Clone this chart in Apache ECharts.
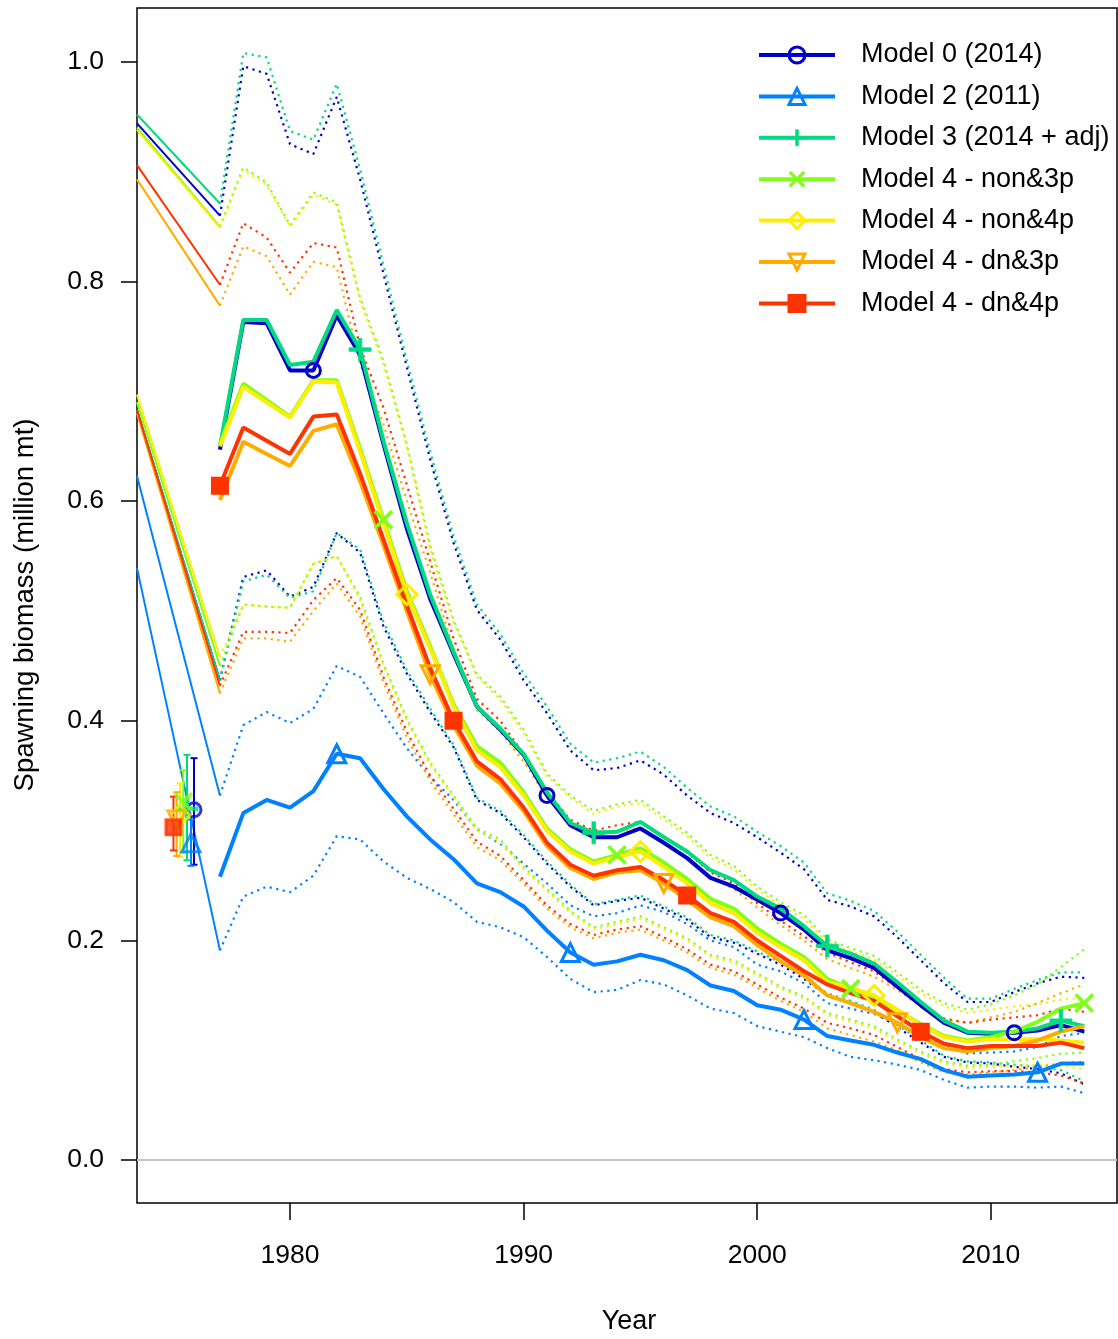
<!DOCTYPE html>
<html>
<head>
<meta charset="utf-8">
<script src="https://cdn.jsdelivr.net/npm/echarts@6/dist/echarts.min.js"></script>
<style>
html,body{margin:0;padding:0;background:#fff;}
#chart{width:1118px;height:1339px;}
</style>
</head>
<body>
<div id="chart"></div>
<script>
// ---------------- DATA ----------------
const modelNames = ['Model 0 (2014)','Model 2 (2011)','Model 3 (2014 + adj)','Model 4 - non&3p','Model 4 - non&4p','Model 4 - dn&3p','Model 4 - dn&4p'];
const years = [1977,1978,1979,1980,1981,1982,1983,1984,1985,1986,1987,1988,1989,1990,1991,1992,1993,1994,1995,1996,1997,1998,1999,2000,2001,2002,2003,2004,2005,2006,2007,2008,2009,2010,2011,2012,2013,2014];
const xTickLabels = [1980,1990,2000,2010];
const yTickLabels = [0.0,0.2,0.4,0.6,0.8,1.0];

// Model 0 (2014)
const m0Est   = [0.647,0.763,0.762,0.719,0.719,0.769,0.733,0.652,0.575,0.511,0.461,0.413,0.392,0.369,0.332,0.305,0.294,0.294,0.302,0.289,0.275,0.257,0.249,0.237,0.225,0.210,0.191,0.184,0.175,0.158,0.141,0.125,0.116,0.115,0.116,0.118,0.123,0.117];
const m0Upper = [0.860,0.996,0.989,0.925,0.916,0.968,0.893,0.807,0.722,0.638,0.562,0.501,0.474,0.437,0.407,0.373,0.355,0.357,0.364,0.351,0.332,0.316,0.307,0.294,0.280,0.265,0.237,0.231,0.222,0.203,0.182,0.161,0.144,0.144,0.153,0.161,0.167,0.166];
const m0Lower = [0.437,0.531,0.537,0.513,0.522,0.571,0.553,0.486,0.443,0.408,0.376,0.328,0.316,0.294,0.270,0.249,0.232,0.236,0.239,0.229,0.219,0.203,0.198,0.188,0.178,0.165,0.150,0.143,0.135,0.121,0.107,0.094,0.089,0.088,0.085,0.083,0.079,0.069];
// Model 2 (2011)
const m2Est   = [0.258,0.316,0.328,0.321,0.336,0.370,0.366,0.338,0.313,0.292,0.274,0.252,0.244,0.231,0.209,0.189,0.178,0.181,0.187,0.182,0.173,0.159,0.154,0.141,0.137,0.128,0.113,0.109,0.105,0.098,0.092,0.082,0.076,0.077,0.078,0.080,0.088,0.088];
const m2Upper = [0.332,0.396,0.408,0.398,0.411,0.450,0.440,0.407,0.375,0.349,0.328,0.301,0.288,0.270,0.252,0.232,0.222,0.225,0.232,0.226,0.215,0.200,0.194,0.178,0.172,0.161,0.143,0.138,0.133,0.124,0.116,0.105,0.097,0.098,0.099,0.103,0.113,0.116];
const m2Lower = [0.191,0.240,0.249,0.244,0.259,0.295,0.292,0.272,0.257,0.247,0.235,0.217,0.212,0.203,0.185,0.165,0.153,0.155,0.164,0.160,0.150,0.138,0.134,0.122,0.117,0.112,0.102,0.094,0.091,0.087,0.082,0.073,0.066,0.067,0.067,0.066,0.067,0.061];
// Model 3 (2014 + adj)
const m3Est   = [0.650,0.765,0.765,0.724,0.727,0.774,0.738,0.655,0.580,0.515,0.463,0.413,0.393,0.370,0.335,0.307,0.298,0.299,0.308,0.294,0.281,0.264,0.255,0.240,0.229,0.213,0.195,0.188,0.179,0.162,0.144,0.127,0.117,0.116,0.117,0.120,0.127,0.122];
const m3Upper = [0.871,1.008,1.004,0.937,0.929,0.980,0.902,0.815,0.728,0.645,0.568,0.506,0.479,0.443,0.413,0.379,0.362,0.366,0.372,0.358,0.339,0.322,0.313,0.299,0.286,0.271,0.243,0.236,0.227,0.208,0.187,0.166,0.147,0.147,0.156,0.164,0.171,0.171];
const m3Lower = [0.437,0.527,0.533,0.512,0.518,0.571,0.556,0.490,0.446,0.411,0.378,0.330,0.318,0.296,0.272,0.251,0.233,0.237,0.241,0.231,0.221,0.205,0.200,0.190,0.180,0.167,0.152,0.145,0.137,0.123,0.109,0.095,0.090,0.089,0.087,0.085,0.082,0.072];
// Model 4 - non&3p
const m4aEst   = [0.652,0.707,0.692,0.677,0.710,0.710,0.648,0.583,0.518,0.468,0.415,0.377,0.362,0.335,0.302,0.283,0.272,0.278,0.284,0.271,0.256,0.238,0.229,0.211,0.197,0.185,0.165,0.156,0.149,0.136,0.124,0.113,0.109,0.112,0.117,0.126,0.138,0.143];
const m4aUpper = [0.850,0.904,0.890,0.851,0.881,0.872,0.785,0.728,0.652,0.560,0.492,0.442,0.422,0.392,0.352,0.332,0.318,0.324,0.328,0.313,0.298,0.278,0.268,0.249,0.235,0.223,0.201,0.193,0.186,0.171,0.155,0.143,0.137,0.142,0.150,0.160,0.176,0.192];
const m4aLower = [0.450,0.506,0.504,0.503,0.543,0.550,0.513,0.452,0.402,0.362,0.332,0.302,0.292,0.267,0.247,0.227,0.212,0.217,0.222,0.212,0.202,0.187,0.182,0.170,0.158,0.149,0.134,0.128,0.122,0.110,0.099,0.090,0.086,0.087,0.090,0.093,0.097,0.098];
// Model 4 - non&4p
const m4bEst   = [0.650,0.704,0.690,0.676,0.709,0.708,0.645,0.580,0.515,0.466,0.413,0.373,0.358,0.332,0.300,0.281,0.270,0.276,0.281,0.267,0.252,0.234,0.225,0.207,0.194,0.182,0.162,0.157,0.150,0.137,0.123,0.112,0.108,0.110,0.110,0.110,0.109,0.107];
const m4bUpper = [0.849,0.902,0.888,0.850,0.879,0.870,0.782,0.725,0.650,0.556,0.490,0.440,0.419,0.389,0.350,0.330,0.315,0.322,0.325,0.310,0.295,0.275,0.265,0.246,0.232,0.220,0.198,0.190,0.183,0.168,0.152,0.140,0.134,0.137,0.140,0.142,0.146,0.148];
const m4bLower = [0.458,0.506,0.504,0.503,0.543,0.550,0.510,0.450,0.400,0.360,0.330,0.300,0.290,0.265,0.245,0.225,0.210,0.215,0.220,0.210,0.200,0.185,0.180,0.168,0.156,0.147,0.132,0.126,0.120,0.108,0.097,0.088,0.084,0.085,0.086,0.087,0.086,0.083];
// Model 4 - dn&3p
const m4cEst   = [0.601,0.654,0.643,0.632,0.664,0.670,0.618,0.560,0.500,0.442,0.396,0.359,0.343,0.318,0.286,0.266,0.256,0.262,0.264,0.252,0.237,0.221,0.213,0.196,0.181,0.168,0.150,0.143,0.135,0.125,0.112,0.102,0.099,0.102,0.104,0.109,0.117,0.122];
const m4cUpper = [0.778,0.832,0.823,0.788,0.818,0.813,0.725,0.670,0.600,0.535,0.465,0.410,0.390,0.363,0.330,0.305,0.295,0.300,0.302,0.290,0.275,0.257,0.247,0.230,0.214,0.200,0.183,0.175,0.167,0.155,0.140,0.128,0.125,0.130,0.135,0.143,0.152,0.160];
const m4cLower = [0.425,0.475,0.475,0.472,0.500,0.525,0.495,0.435,0.385,0.345,0.315,0.285,0.273,0.252,0.229,0.212,0.202,0.207,0.210,0.200,0.189,0.175,0.169,0.157,0.145,0.135,0.120,0.114,0.108,0.100,0.089,0.080,0.078,0.080,0.082,0.085,0.088,0.090];
// Model 4 - dn&4p
const m4dEst   = [0.614,0.667,0.655,0.643,0.677,0.679,0.625,0.565,0.505,0.448,0.400,0.363,0.347,0.321,0.289,0.269,0.259,0.264,0.267,0.255,0.241,0.225,0.217,0.200,0.186,0.172,0.160,0.152,0.145,0.131,0.117,0.106,0.102,0.104,0.104,0.104,0.107,0.102];
const m4dUpper = [0.797,0.853,0.840,0.808,0.835,0.831,0.740,0.685,0.615,0.545,0.475,0.420,0.400,0.370,0.335,0.310,0.300,0.305,0.308,0.295,0.280,0.262,0.252,0.234,0.218,0.204,0.189,0.180,0.172,0.157,0.141,0.129,0.125,0.128,0.130,0.132,0.138,0.135];
const m4dLower = [0.432,0.481,0.481,0.480,0.510,0.530,0.501,0.440,0.390,0.350,0.320,0.290,0.277,0.255,0.232,0.215,0.205,0.210,0.213,0.203,0.192,0.178,0.172,0.160,0.148,0.138,0.125,0.120,0.114,0.103,0.092,0.083,0.080,0.081,0.081,0.080,0.077,0.070];

// symbol years for each model
const markerYears = [[1981,1991,2001,2011],[1982,1992,2002,2012],[1983,1993,2003,2013],[1984,1994,2004,2014],[1985,1995,2005],[1986,1996,2006],[1977,1987,1997,2007]];

// lead-in interval lines (from unfished interval, off the left edge, to 1977)
const leadInYear = 1973.45;
const leadInUpper = [0.944,0.623,0.952,0.940,0.938,0.893,0.906];
const leadInLower = [0.683,0.539,0.683,0.690,0.697,0.680,0.683];

// unfished (virgin) estimate and interval
const virginYear  = [1975.89,1975.76,1975.59,1975.43,1975.29,1975.15,1975.01];
const virginEst   = [0.319,0.289,0.320,0.326,0.314,0.310,0.303];
const virginLower = [0.269,0.268,0.273,0.280,0.276,0.277,0.282];
const virginUpper = [0.366,0.310,0.369,0.355,0.343,0.335,0.331];

// ---------------- STYLE ----------------
const colors = ['#0000CB','#0081FF','#02DA81','#80FE1A','#FDEE02','#FFAB00','#FF3300'];
const estArr = [m0Est,m2Est,m3Est,m4aEst,m4bEst,m4cEst,m4dEst];
const upArr  = [m0Upper,m2Upper,m3Upper,m4aUpper,m4bUpper,m4cUpper,m4dUpper];
const loArr  = [m0Lower,m2Lower,m3Lower,m4aLower,m4bLower,m4cLower,m4dLower];
const FONT = '"Liberation Sans", Arial, Helvetica, sans-serif';
const PLUS = 'path://M8.4,0L11.6,0L11.6,8.4L20,8.4L20,11.6L11.6,11.6L11.6,20L8.4,20L8.4,11.6L0,11.6L0,8.4L8.4,8.4Z';
const CROSS = 'path://M0,2.3L2.3,0L10,7.7L17.7,0L20,2.3L12.3,10L20,17.7L17.7,20L10,12.3L2.3,20L0,17.7L7.7,10Z';
const symbols = [
  {symbol:'circle', size:14, rotate:0, fill:false},
  {symbol:'triangle', size:18, rotate:0, fill:false},
  {symbol:PLUS, size:22, rotate:0, fill:true},
  {symbol:CROSS, size:19, rotate:0, fill:true},
  {symbol:'diamond', size:20, rotate:0, fill:false},
  {symbol:'triangle', size:18, rotate:180, fill:false},
  {symbol:'rect', size:15, rotate:0, fill:true}
];
const SYM_BORDER = 3;

const series = [];
// dotted intervals
for (let m = 0; m < 7; m++) {
  [upArr[m], loArr[m]].forEach((arr, k) => {
    series.push({
      type:'line', name: modelNames[m] + (k ? ' lower' : ' upper'),
      data: years.map((y,i)=>[y, arr[i]]),
      symbol:'none', silent:true, animation:false,
      lineStyle:{color:colors[m], width:2.2, type:[2.2,4.5], cap:'butt'},
      z: 2
    });
  });
}
// thin solid lead-in lines
for (let m = 0; m < 7; m++) {
  series.push({type:'line', name: modelNames[m]+' leadU', data:[[leadInYear, leadInUpper[m]],[years[0], upArr[m][0]]],
    symbol:'none', silent:true, animation:false, lineStyle:{color:colors[m], width:2}, z:3});
  series.push({type:'line', name: modelNames[m]+' leadL', data:[[leadInYear, leadInLower[m]],[years[0], loArr[m][0]]],
    symbol:'none', silent:true, animation:false, lineStyle:{color:colors[m], width:2}, z:3});
}
// error bars on unfished estimate
for (let m = 0; m < 7; m++) {
  const col = colors[m];
  series.push({
    type:'custom', name: modelNames[m]+' bar', silent:true, animation:false, z:4,
    encode:{x:0, y:[1,2]},
    data:[[virginYear[m], virginLower[m], virginUpper[m]]],
    renderItem:function(params, api){
      const x = api.value(0);
      const p1 = api.coord([x, api.value(1)]);
      const p2 = api.coord([x, api.value(2)]);
      const w = 3.5;
      const st = {stroke:col, lineWidth:2};
      return {type:'group', children:[
        {type:'line', shape:{x1:p1[0],y1:p1[1],x2:p2[0],y2:p2[1]}, style:st},
        {type:'line', shape:{x1:p1[0]-w,y1:p1[1],x2:p1[0]+w,y2:p1[1]}, style:st},
        {type:'line', shape:{x1:p2[0]-w,y1:p2[1],x2:p2[0]+w,y2:p2[1]}, style:st}
      ]};
    }
  });
}
function symItemStyle(s, col) {
  return s.fill
    ? {color: col, borderColor: col, borderWidth: s.symbol === 'rect' ? SYM_BORDER : 0.8}
    : {color: 'rgba(255,255,255,0)', borderColor: col, borderWidth: SYM_BORDER};
}
// main estimate lines with symbols
for (let m = 0; m < 7; m++) {
  const s = symbols[m];
  const col = colors[m];
  series.push({
    type:'line', name: modelNames[m], animation:false, z:5,
    data: years.map((y,i)=>({value:[y, estArr[m][i]], symbol: markerYears[m].indexOf(y) >= 0 ? s.symbol : 'none'})),
    symbol: s.symbol, symbolSize: s.size, symbolRotate: s.rotate,
    showSymbol:true, showAllSymbol:true,
    lineStyle:{color:col, width:4},
    itemStyle: symItemStyle(s, col),
    emphasis:{disabled:true},
    markLine: m === 0 ? {silent:true, symbol:['none','none'], label:{show:false},
      lineStyle:{color:'#c4c4c4', width:2, type:'solid'}, data:[{yAxis:0}], animation:false} : undefined
  });
}
// unfished points
for (let m = 0; m < 7; m++) {
  const s = symbols[m];
  const col = colors[m];
  series.push({
    type:'scatter', name: modelNames[m]+' virgin', animation:false, silent:true, z:6,
    data:[[virginYear[m], virginEst[m]]],
    symbol:s.symbol, symbolSize:s.size, symbolRotate:s.rotate,
    itemStyle: symItemStyle(s, col)
  });
}

const option = {
  backgroundColor:'#fff',
  animation:false,
  grid:{left:137, top:8, width:980, height:1195, show:true, borderColor:'#000', borderWidth:1.5, backgroundColor:'transparent'},
  xAxis:{
    type:'value', min:1973.45, max:2015.4,
    axisLine:{show:false, onZero:false},
    axisTick:{show:true, inside:false, length:17, lineStyle:{color:'#000', width:1.5}, customValues: xTickLabels},
    axisLabel:{show:true, margin:39, fontSize:26.5, fontFamily:FONT, color:'#000', customValues: xTickLabels,
      formatter: v => String(Math.round(v))},
    splitLine:{show:false}
  },
  yAxis:{
    type:'value', min:-0.039, max:1.049,
    axisLine:{show:false, onZero:false},
    axisTick:{show:true, inside:false, length:16, lineStyle:{color:'#000', width:1.5}, customValues: yTickLabels},
    axisLabel:{show:true, margin:33, fontSize:26.5, fontFamily:FONT, color:'#000', customValues: yTickLabels,
      formatter: v => v.toFixed(1)},
    splitLine:{show:false}
  },
  legend:{
    data: modelNames, orient:'vertical', left:752, top:35,
    itemWidth:76, itemHeight:20, itemGap:11.4, selectedMode:false,
    lineStyle:{width:4},
    itemStyle:{borderWidth:'inherit'},
    textStyle:{fontSize:27, fontFamily:FONT, color:'#000', lineHeight:30, padding:[0,0,0,21]}
  },
  graphic:[
    {type:'text', x:629, y:1322, silent:true, style:{text:'Year', fontSize:27, fontFamily:FONT, fill:'#000', align:'center', verticalAlign:'middle'}},
    {type:'text', x:25, y:605, rotation:Math.PI/2, silent:true, style:{text:'Spawning biomass (million mt)', fontSize:27.5, fontFamily:FONT, fill:'#000', align:'center', verticalAlign:'middle'}}
  ],
  series: series
};

const chart = echarts.init(document.getElementById('chart'), null, {renderer:'canvas'});
chart.setOption(option);
</script>
</body>
</html>
